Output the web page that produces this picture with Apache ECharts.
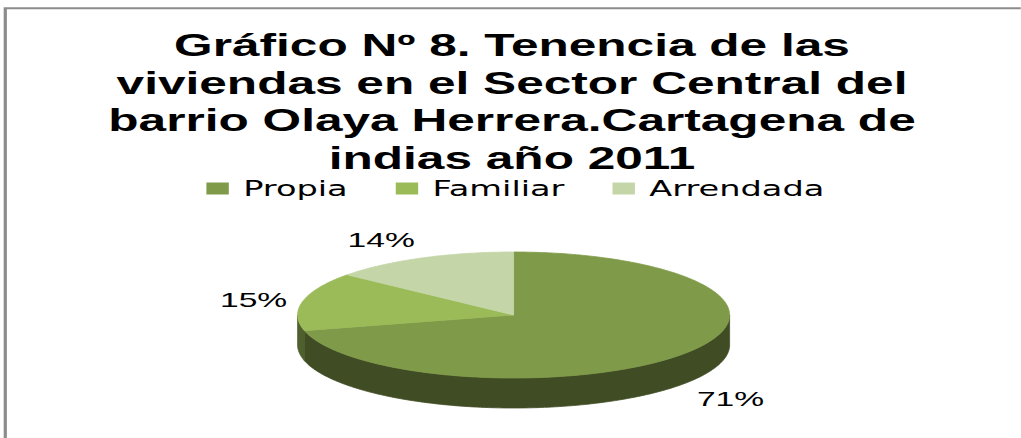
<!DOCTYPE html>
<html>
<head>
<meta charset="utf-8">
<script src="https://cdn.jsdelivr.net/npm/echarts@6/dist/echarts.min.js"></script>
<style>
  html, body { margin: 0; padding: 0; background: #fff; overflow: hidden; }
  /* the source picture is an Excel chart stretched sideways, so draw narrow and stretch */
  #chart {
    position: absolute; left: 0; top: 0;
    width: 638px; height: 438px;
    transform: scaleX(1.6); transform-origin: 0 0;
  }
</style>
</head>
<body>
<div id="chart"></div>
<script>
const categories = ['Propia', 'Familiar', 'Arrendada'];
const shares = [71, 15, 14];

const topColors = ['#7f9a48', '#9bbb59', '#c4d6a8'];
const sideColors = ['#404c24', '#4f5f2d', '#6b7a56'];

// pie geometry (unstretched px)
const CX = 321, CY = 315, RX = 135, RY = 63, DEPTH = 30;

const total = shares.reduce((a, b) => a + b, 0);

function pt(deg, dy) {
  const r = deg * Math.PI / 180;
  return [CX + RX * Math.sin(r), CY - RY * Math.cos(r) + (dy || 0)];
}

function arc(a0, a1, dy) {
  const pts = [];
  const n = Math.max(2, Math.ceil(Math.abs(a1 - a0)));
  for (let k = 0; k <= n; k++) pts.push(pt(a0 + (a1 - a0) * k / n, dy));
  return pts;
}

function renderSlice(params, api) {
  const i = params.seriesIndex;
  let before = 0;
  for (let k = 0; k < i; k++) before += shares[k];
  const v = api.value(0);
  const a0 = before / total * 360;
  const a1 = (before + v) / total * 360;
  const children = [];

  // front wall (only the half facing the viewer)
  const s0 = Math.max(a0, 90), s1 = Math.min(a1, 270);
  if (s1 > s0) {
    const wall = arc(s0, s1, 0).concat(arc(s1, s0, DEPTH));
    children.push({
      type: 'polygon',
      shape: { points: wall },
      style: { fill: sideColors[i], stroke: sideColors[i], lineWidth: 0.6 }
    });
  }

  // top face
  children.push({
    type: 'polygon',
    shape: { points: [[CX, CY]].concat(arc(a0, a1, 0)) },
    style: { fill: topColors[i], stroke: topColors[i], lineWidth: 0.6 }
  });

  // percentage label outside the rim
  const mid = (a0 + a1) / 2;
  const sn = Math.sin(mid * Math.PI / 180), cs = Math.cos(mid * Math.PI / 180);
  const edge = pt(mid, cs < 0 ? DEPTH : 0);
  const gap = 8;
  const align = sn < 0 ? 'right' : 'left';
  const valign = cs > 0.5 ? 'bottom' : (cs < -0.5 ? 'top' : 'middle');
  children.push({
    type: 'text',
    x: edge[0] + (gap + 2) * sn,
    y: edge[1] - gap * cs,
    style: {
      text: Math.round(v / total * 100) + '%',
      fill: '#000',
      font: '21px "Liberation Sans", Arial, sans-serif',
      align: align, textAlign: align,
      verticalAlign: valign, textVerticalAlign: valign
    }
  });

  return { type: 'group', children: children };
}

const chart = echarts.init(document.getElementById('chart'), null, { renderer: 'svg' });

chart.setOption({
  backgroundColor: '#fff',
  animation: false,
  title: {
    text: 'Gráfico Nº 8. Tenencia de las\nviviendas en el Sector Central del\nbarrio Olaya Herrera.Cartagena de\nindias año 2011',
    left: 320,
    top: 27,
    padding: 0,
    textAlign: 'center',
    textStyle: {
      fontFamily: '"Liberation Sans", Arial, sans-serif',
      fontWeight: 'bold',
      fontSize: 31,
      lineHeight: 37.5,
      color: '#000'
    }
  },
  legend: {
    data: categories,
    top: 173,
    left: 124,
    icon: 'rect',
    itemWidth: 14,
    itemHeight: 12,
    itemGap: 30,
    selectedMode: false,
    textStyle: {
      fontFamily: '"DejaVu Sans", sans-serif',
      fontSize: 21,
      lineHeight: 20,
      padding: [0, 0, 0, 4],
      color: '#000'
    }
  },
  graphic: [{
    type: 'rect',
    silent: true,
    shape: { x: 3.3, y: 8.3, width: 700, height: 500 },
    style: { fill: 'none', stroke: '#8c8c8c', lineWidth: 2 }
  }],
  series: categories.map((name, i) => ({
    type: 'custom',
    name: name,
    coordinateSystem: 'none',
    silent: true,
    itemStyle: { color: topColors[i] },
    data: [shares[i]],
    renderItem: renderSlice
  }))
});
</script>
</body>
</html>
